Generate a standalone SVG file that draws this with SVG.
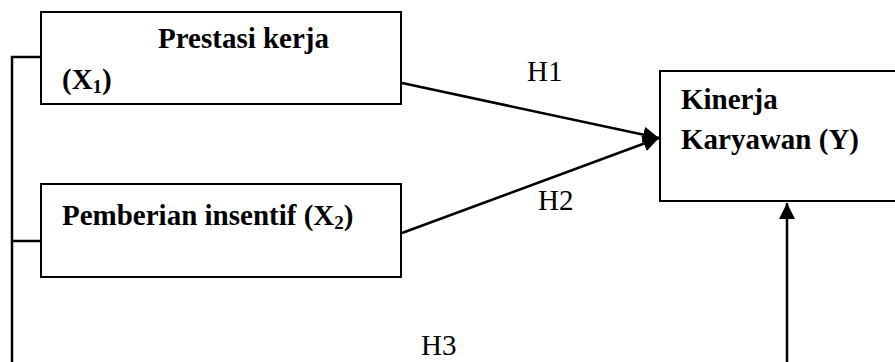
<svg xmlns="http://www.w3.org/2000/svg" width="895" height="362" viewBox="0 0 895 362">
<style>
.box{fill:#fff;stroke:#000;stroke-width:2}
.lbl{font-family:"Liberation Serif","Times New Roman",serif;font-size:29px;fill:#000}
.b{font-weight:bold}
.con{fill:none;stroke:#000;stroke-width:2.5}
</style>
<defs>
<marker id="arr" markerUnits="userSpaceOnUse" markerWidth="18" markerHeight="16" refX="16" refY="8" orient="auto">
<path d="M0,0 L16,8 L0,16 Z" fill="#000"/>
</marker>
</defs>
<rect width="895" height="362" fill="#fff"/>
<g id="connectors">
<path class="con" d="M41,57 H12 V372 H787 V203" marker-end="url(#arr)"/>
<path class="con" d="M12,241 H41"/>
<path class="con" d="M402,83 L659,138" marker-end="url(#arr)"/>
<path class="con" d="M402,233 L659,138" marker-end="url(#arr)"/>
<text class="lbl" x="527" y="81">H1</text>
<text class="lbl" x="538" y="210">H2</text>
<text class="lbl" x="421" y="355">H3</text>
</g>
<g id="x1">
<rect class="box" x="41" y="12" width="360" height="92"/>
<text class="lbl b" x="158" y="48">Prestasi kerja</text>
<text class="lbl b" x="62" y="89">(X<tspan font-size="19" dy="4">1</tspan><tspan dy="-4">)</tspan></text>
</g>
<g id="x2">
<rect class="box" x="41" y="184" width="360" height="93"/>
<text class="lbl b" x="62" y="225">Pemberian insentif (X<tspan font-size="19" dy="4">2</tspan><tspan dy="-4">)</tspan></text>
</g>
<g id="y">
<rect class="box" x="660" y="71" width="240" height="130"/>
<text class="lbl b" x="681" y="109">Kinerja</text>
<text class="lbl b" x="681" y="149">Karyawan (Y)</text>
</g>
</svg>
